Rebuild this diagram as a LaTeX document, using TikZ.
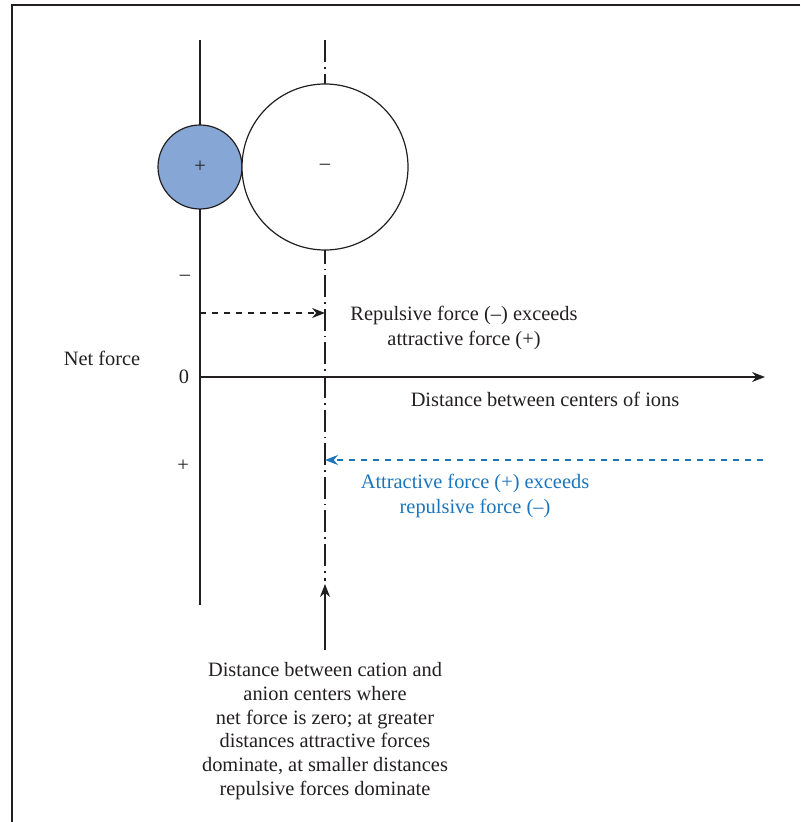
\documentclass[tikz,border=0pt]{standalone}
\usepackage{fontspec}
\setmainfont{Liberation Serif}
\usepackage{tikz}
\usetikzlibrary{arrows.meta,calc,positioning}
\usepackage{xcolor}
\definecolor{ink}{HTML}{231F20}
\definecolor{cationblue}{HTML}{86A6D5}
\definecolor{attrblue}{HTML}{1B75BB}
\tikzset{
  ion/.style={circle,draw=ink,line width=0.6pt,inner sep=0pt},
  lbl/.style={text=ink,font=\fontsize{10.2}{12.8}\selectfont,align=center,inner sep=0pt},
  dashdot/.style={ink,line width=0.6pt,dash pattern=on 11pt off 2.5pt on 0.8pt off 2.5pt},
}

\begin{document}
\begin{tikzpicture}[>={Stealth[length=6.5pt,width=5pt]},x=0.5pt,y=-0.5pt]
  \useasboundingbox (0,0) rectangle (800,822);
  \draw[ink,line width=0.8pt] (800,5) -- (12,5) -- (12,822);

  \coordinate (top) at (200,40);
  \coordinate (bot) at (200,605);
  \coordinate (o) at (200,377);
  \coordinate (xend) at (765,377);
  \coordinate (eqtop) at (325,40);
  \coordinate (eq) at (325,584);
  \coordinate (rep) at (200,313);
  \coordinate (repend) at (325,313);
  \coordinate (attr) at (763,460);
  \coordinate (attrend) at (325,460);

  \draw[ink,line width=0.6pt] (top) -- (bot);
  \draw[dashdot] (eqtop) -- ($(eq)+(0,-3)$);
  \draw[->,ink,line width=0.6pt] (o) -- (xend);

  \node[ion,fill=cationblue,minimum size=42pt] (cation) at (200,167) {};
  \node[ion,fill=white,minimum size=83pt] (anion) at (325,167) {};
  \node[lbl] (cplus) at (cation) {+};
  \node[lbl] (aminus) at (anion) {--};

  \node[lbl] (ynet) at (102,358) {Net force};
  \node[lbl] (yminus) at (185,278) {--};
  \node[lbl] (yzero) at (184,377) {0};
  \node[lbl] (yplus) at (183,466) {+};

  \draw[->,ink,dashed,line width=0.6pt] (rep) -- (repend);
  \node[lbl] (reptext) at (464,328) {Repulsive force (--) exceeds\\attractive force (+)};
  \node[lbl] (xlabel) at (545,399) {Distance between centers of ions};

  \draw[->,attrblue,dashed,line width=0.6pt] (attr) -- (attrend);
  \node[lbl,text=attrblue] (attrtext) at (475,496) {Attractive force (+) exceeds\\repulsive force (--)};

  \node[lbl,font=\fontsize{10.2}{11.9}\selectfont] (note) at (325,731) {Distance between cation and\\anion centers where\\net force is zero; at greater\\distances attractive forces\\dominate, at smaller distances\\repulsive forces dominate};
  \draw[->,ink,line width=0.6pt,shorten <=6pt] (note) -- (eq);
\end{tikzpicture}
\end{document}
